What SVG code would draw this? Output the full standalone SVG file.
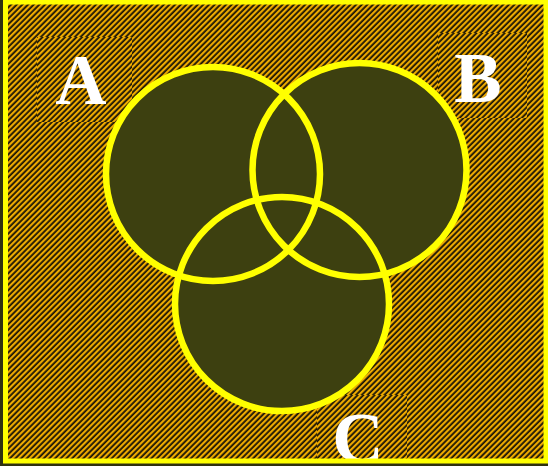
<svg xmlns="http://www.w3.org/2000/svg" width="548" height="466" viewBox="0 0 548 466">
  <defs>
    <pattern id="stripes" patternUnits="userSpaceOnUse" width="4" height="4" patternTransform="rotate(45)">
      <rect width="4" height="4" fill="#181408"/>
      <rect width="2.2" height="4" fill="#eeaa00"/>
    </pattern>
    <pattern id="stripes2" patternUnits="userSpaceOnUse" width="4" height="4" patternTransform="rotate(45) translate(1.2 0)">
      <rect width="4" height="4" fill="#181408"/>
      <rect width="2.2" height="4" fill="#eeaa00"/>
    </pattern>
    <style>
      .set { fill: #3d4010; }
      .ring { fill: none; stroke: #ffff00; stroke-width: 6.5; }
      .lbl { font-family: "Liberation Serif", "Times New Roman", serif; font-weight: bold; font-size: 71px; fill: #ffffff; text-anchor: middle; }
    </style>
  </defs>
  <rect x="0" y="0" width="548" height="466" fill="#2f3110"/>
  <rect x="5.5" y="2" width="540.5" height="459" fill="url(#stripes)"/>
  <g id="label-boxes">
    <rect x="37" y="37" width="95" height="85" fill="url(#stripes2)"/>
    <rect x="438" y="33" width="89" height="85" fill="url(#stripes2)"/>
    <rect x="317" y="395" width="90" height="66" fill="url(#stripes2)"/>
  </g>
  <g id="fills">
    <circle class="set" cx="213" cy="174" r="107"/>
    <circle class="set" cx="359.5" cy="170" r="107"/>
    <circle class="set" cx="282" cy="304" r="107"/>
  </g>
  <g id="setA"><circle class="ring" cx="213" cy="174" r="107"/></g>
  <g id="setB"><circle class="ring" cx="359.5" cy="170" r="107"/></g>
  <g id="setC"><circle class="ring" cx="282" cy="304" r="107"/></g>
  <g id="labelA"><text class="lbl" x="81" y="104">A</text></g>
  <g id="labelB"><text class="lbl" x="478" y="102">B</text></g>
  <g id="labelC"><text class="lbl" x="358" y="462">C</text></g>
  <rect x="5.5" y="2" width="540.5" height="459" fill="none" stroke="#ffff00" stroke-width="5"/>
</svg>
